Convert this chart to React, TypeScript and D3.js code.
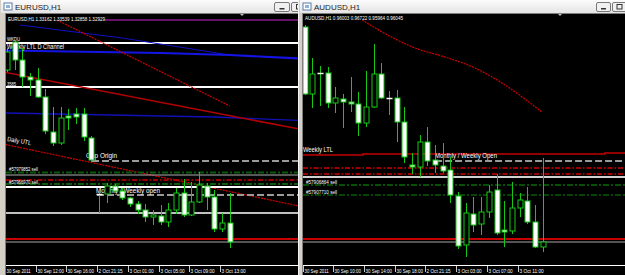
import React from "react";
import * as d3 from "d3";

// ---------- EURUSD H1 (left window) ----------
const eurOpen = [1.3588,1.3644,1.3608,1.3574,1.3568,1.3534,1.3464,1.3442,1.3496,1.3500,1.3500,1.3452,1.3340,1.3340,1.3356,1.3346,1.3332,1.3320,1.3308,1.3294,1.3296,1.3284,1.3308,1.3342,1.3298,1.3324,1.3356,1.3334,1.3270,1.3282];
const eurHigh = [1.3632,1.3648,1.3632,1.3582,1.3592,1.3550,1.3514,1.3514,1.3510,1.3512,1.3512,1.3456,1.3352,1.3362,1.3360,1.3352,1.3334,1.3326,1.3320,1.3308,1.3318,1.3322,1.3352,1.3370,1.3364,1.3384,1.3362,1.3348,1.3302,1.3342];
const eurLow = [1.3584,1.3588,1.3554,1.3536,1.3532,1.3460,1.3436,1.3438,1.3468,1.3480,1.3446,1.3404,1.3302,1.3322,1.3342,1.3328,1.3314,1.3300,1.3284,1.3278,1.3278,1.3274,1.3300,1.3294,1.3296,1.3322,1.3308,1.3264,1.3264,1.3232];
const eurClose = [1.3624,1.3608,1.3574,1.3568,1.3534,1.3466,1.3442,1.3492,1.3492,1.3494,1.3454,1.3408,1.3340,1.3356,1.3346,1.3332,1.3320,1.3308,1.3294,1.3298,1.3284,1.3308,1.3342,1.3298,1.3324,1.3358,1.3334,1.3270,1.3282,1.3244];
const eurTickBars = [0, 4, 8, 12, 16, 20, 24, 28];
const eurTickLabels = ["30 Sep 2011","30 Sep 12:00","30 Sep 16:00","2 Oct 21:15","3 Oct 01:00","3 Oct 05:00","3 Oct 09:00","3 Oct 13:00"];
const eurHeader = "EURUSD,H1  1.33162 1.33539 1.32858 1.32929";
// horizontal levels
const eurPurple = 1.3688;
const eurWeeklyLTL = 1.3642;
const eurLevel3585 = 1.3554;
const eurGapOrigin = 1.3406;
const eurSell1 = 1.3383;
const eurGray1 = 1.3378;
const eurRedDash = 1.3368;
const eurSell2 = 1.3360;
const eurWhite2 = 1.3354;
const eurMonthlyOpen = 1.3338;
const eurGray2 = 1.3302;
const eurRed = 1.3250;
const eurGray3 = 1.3244;
// trend lines [bar, price]
const eurBlueThick: [number, number][] = [[-0.2, 1.3627], [20, 1.3622], [29, 1.3618], [38, 1.3611]];
const eurBlueThin: [number, number][] = [[1.7, 1.3678], [15, 1.3652], [29, 1.3618]];
const eurBlueMid: [number, number][] = [[-0.2, 1.3502], [27, 1.3494], [38, 1.3487]];
const eurRedDotted: [number, number][] = [[6.5, 1.3688], [29, 1.3516]];
const eurRedSolid: [number, number][] = [[-0.2, 1.3583], [38, 1.3470]];
const eurDailyUTL: [number, number][] = [[-0.2, 1.3439], [38, 1.3316]];

// ---------- AUDUSD H1 (right window) ----------
const audOpen = [0.9787,0.9720,0.9741,0.9741,0.9711,0.9715,0.9712,0.9710,0.9691,0.9707,0.9740,0.9716,0.9716,0.9692,0.9649,0.9647,0.9672,0.9654,0.9648,0.9644,0.9618,0.9569,0.9600,0.9590,0.9602,0.9624,0.9584,0.9583,0.9606,0.9613,0.9592,0.9567];
const audHigh = [0.9789,0.9756,0.9748,0.9747,0.9727,0.9720,0.9737,0.9722,0.9743,0.9770,0.9751,0.9723,0.9724,0.9707,0.9661,0.9679,0.9687,0.9669,0.9671,0.9657,0.9622,0.9611,0.9617,0.9617,0.9629,0.9640,0.9613,0.9632,0.9621,0.9627,0.9609,0.9656];
const audLow = [0.9719,0.9706,0.9708,0.9706,0.9701,0.9686,0.9702,0.9678,0.9687,0.9706,0.9715,0.9699,0.9672,0.9651,0.9640,0.9637,0.9648,0.9641,0.9641,0.9611,0.9565,0.9557,0.9582,0.9579,0.9596,0.9579,0.9567,0.9580,0.9597,0.9590,0.9566,0.9562];
const audClose = [0.9720,0.9740,0.9741,0.9711,0.9716,0.9712,0.9710,0.9691,0.9707,0.9740,0.9716,0.9716,0.9692,0.9657,0.9647,0.9672,0.9653,0.9649,0.9643,0.9619,0.9568,0.9601,0.9589,0.9602,0.9622,0.9581,0.9582,0.9606,0.9614,0.9592,0.9567,0.9572];
const audTickBars = [0, 4, 8, 12, 16, 20, 24, 28];
const audTickLabels = ["30 Sep 2011","30 Sep 10:00","30 Sep 14:00","30 Sep 18:00","2 Oct 21:15","3 Oct 03:00","3 Oct 07:00","3 Oct 11:00"];
const audHeader = "AUDUSD,H1  0.96003 0.96722 0.95964 0.96045";
const audWeeklyLTL: [number, number][] = [[-0.2, 0.9659], [7.6, 0.9659], [7.6, 0.9660], [39.1, 0.9660], [39.1, 0.9661], [42, 0.9661]];
const audMonthlyOpen = 0.9653;
const audRedDash1 = 0.9646;
const audRedDash2 = 0.9640;
const audWhite = 0.9637;
const audSell1 = 0.9629;
const audSell2 = 0.9619;
const audRed = 0.9575;
const audGray = 0.9572;
const audRedCurve: [number, number][] = [[7.5, 0.9794], [11.3, 0.9777], [14.4, 0.9766], [18.7, 0.9756], [22.2, 0.9746], [25.7, 0.9731], [30.9, 0.9702]];

const GREEN = "#14c814";
const DOTRED = "#d00000";
const FONT = "'Liberation Sans', Arial, sans-serif";

const L = { x0: 6, x1: 298, y0: 14, y1: 275 };
const R = { x0: 303, x1: 625, y0: 14, y1: 275 };

const exL = d3.scaleLinear().domain([0, 37.76]).range([7, 297]);
const eyL = d3.scaleLinear().domain([1.32, 1.37]).range([264, 14]);
const exR = d3.scaleLinear().domain([0, 41.6]).range([304.5, 624]);
const eyR = d3.scaleLinear().domain([0.955, 0.98]).range([264, 14]);

function Candles({ o, h, l, c, x, y }: any) {
  return (
    <g>
      {o.map((op: number, i: number) => {
        const cx = Math.round(x(i)) + 0.5;
        const yo = y(op), yc = y(c[i]);
        const top = Math.min(yo, yc), bot = Math.max(yo, yc);
        const bull = c[i] > op;
        return (
          <g key={i}>
            <line x1={cx} x2={cx} y1={y(h[i])} y2={y(l[i])} stroke={GREEN} strokeWidth={1} />
            {bot - top < 1 ? (
              <line x1={cx - 3} x2={cx + 3} y1={Math.round(top) + 0.5} y2={Math.round(top) + 0.5} stroke={bull ? GREEN : "#fff"} strokeWidth={1.5} />
            ) : (
              <rect x={cx - 2.5} y={top} width={5} height={bot - top} fill={bull ? "#000" : "#fff"} stroke={GREEN} strokeWidth={1} />
            )}
          </g>
        );
      })}
    </g>
  );
}

function HLine({ y, x0, x1, color, w = 1, dash }: any) {
  return <line x1={x0} x2={x1} y1={y} y2={y} stroke={color} strokeWidth={w} strokeDasharray={dash} />;
}

function Txt({ x, y, t, size = 6, len, fill = "#fff", rot }: any) {
  return (
    <text x={x} y={y} fill={fill} fontSize={size} fontFamily={FONT} textLength={len} lengthAdjust="spacingAndGlyphs"
      transform={rot ? `rotate(${rot} ${x} ${y})` : undefined}>{t}</text>
  );
}

function Axis({ bars, labels, x, b }: any) {
  return (
    <g>
      <line x1={b.x0} x2={b.x1} y1={265.5} y2={265.5} stroke="#fff" strokeWidth={1} />
      {bars.map((bi: number, k: number) => {
        const px = Math.round(x(bi)) - 1.5;
        return (
          <g key={k}>
            <line x1={px} x2={px} y1={265} y2={272} stroke="#fff" strokeWidth={0.8} />
            <Txt x={px + 1} y={272.5} t={labels[k]} size={5} len={labels[k].length * 2.2} />
          </g>
        );
      })}
    </g>
  );
}

function TitleBar({ x, w, title }: any) {
  return (
    <g>
      <defs>
        <linearGradient id={"tb" + x} x1="0" y1="0" x2="0" y2="1">
          <stop offset="0" stopColor="#fbfbfb" />
          <stop offset="1" stopColor="#e4e4e4" />
        </linearGradient>
      </defs>
      <rect x={x} y={0} width={w} height={13} fill={`url(#tb${x})`} />
      <rect x={x + 3} y={3} width={8} height={7} fill="#fff" stroke="#5a7aa8" strokeWidth={1} />
      <rect x={x + 5} y={5} width={4} height={3} fill="#8fb0d8" />
      <text x={x + 14} y={10} fontSize={8} fontFamily={FONT} fill="#222">{title}</text>
    </g>
  );
}

function Btn({ x, w, kind }: any) {
  return (
    <g>
      <rect x={x + 0.5} y={2.5} width={w} height={9} rx={1.5} fill="#f0f0f0" stroke="#7a7a7a" strokeWidth={1} />
      {kind === "min" ? (
        <rect x={x + w / 2 - 2} y={8} width={5} height={1.5} fill="#333" />
      ) : (
        <rect x={x + w / 2 - 2} y={4.5} width={5} height={4.5} fill="none" stroke="#333" strokeWidth={1} />
      )}
    </g>
  );
}

export default function App() {
  const lineL = d3.line<[number, number]>().x((d) => exL(d[0])).y((d) => eyL(d[1]));
  const lineR = d3.line<[number, number]>().x((d) => exR(d[0])).y((d) => eyR(d[1]));
  const curveR = d3.line<[number, number]>().x((d) => exR(d[0])).y((d) => eyR(d[1])).curve(d3.curveMonotoneX);

  return (
    <div>
      <style>{`body{margin:0;background:#d4d0c8}`}</style>
      <svg width={625} height={275} style={{ display: "block" }}>
        <defs>
          <clipPath id="clipL"><rect x={L.x0} y={L.y0} width={L.x1 - L.x0} height={L.y1 - L.y0} /></clipPath>
          <clipPath id="clipR"><rect x={R.x0} y={R.y0} width={R.x1 - R.x0} height={R.y1 - R.y0} /></clipPath>
        </defs>
        <rect x={0} y={0} width={625} height={275} fill="#d4d0c8" />

        {/* ---------- Left window ---------- */}
        <TitleBar x={1} w={297} title="EURUSD,H1" />
        <Btn x={274} w={15} kind="min" />
        <Btn x={291} w={15} kind="max" />
        <rect x={0} y={13} width={298} height={262} fill="#d4d0c8" />
        <line x1={5.5} x2={5.5} y1={13} y2={275} stroke="#808080" />
        <line x1={5} x2={298} y1={13.5} y2={13.5} stroke="#808080" />
        <rect x={L.x0} y={L.y0} width={L.x1 - L.x0} height={L.y1 - L.y0} fill="#000" />
        <g clipPath="url(#clipL)">
          <HLine y={eyL(eurPurple)} x0={105} x1={298} color="#8a1a8a" w={1.5} />
          <HLine y={eyL(eurWeeklyLTL)} x0={6} x1={298} color="#fff" w={2} />
          <HLine y={eyL(eurLevel3585)} x0={6} x1={298} color="#fff" w={2} />
          <path d={lineL(eurBlueThin)!} fill="none" stroke="#1010c8" strokeWidth={1} />
          <path d={lineL(eurBlueThick)!} fill="none" stroke="#1414e6" strokeWidth={2.2} />
          <path d={lineL(eurBlueMid)!} fill="none" stroke="#1010b4" strokeWidth={1.3} />
          <path d={lineL(eurRedDotted)!} fill="none" stroke={DOTRED} strokeWidth={1.2} strokeDasharray="2,1" />
          <path d={lineL(eurRedSolid)!} fill="none" stroke="#b40000" strokeWidth={1.5} />
          <path d={lineL(eurDailyUTL)!} fill="none" stroke={DOTRED} strokeWidth={1.2} strokeDasharray="2,1" />
          <HLine y={eyL(eurGapOrigin)} x0={92} x1={298} color="#9a9a9a" w={2} dash="7,3" />
          <HLine y={eyL(eurSell1)} x0={6} x1={298} color="#0a5a0a" w={2} dash="6,2,2,2" />
          <HLine y={eyL(eurGray1)} x0={6} x1={298} color="#b0b0b0" w={1} />
          <HLine y={eyL(eurRedDash)} x0={6} x1={298} color="#c80000" w={1.5} dash="5,2,1.5,2" />
          <HLine y={eyL(eurSell2)} x0={6} x1={298} color="#0a5a0a" w={2} dash="6,2,2,2" />
          <HLine y={eyL(eurWhite2)} x0={6} x1={298} color="#fff" w={2} />
          <HLine y={eyL(eurMonthlyOpen)} x0={97} x1={298} color="#9a9a9a" w={2} dash="7,3" />
          <HLine y={eyL(eurGray2)} x0={6} x1={298} color="#c0c0c0" w={2} />
          <HLine y={eyL(eurRed)} x0={6} x1={298} color="#c80000" w={2} />
          <HLine y={eyL(eurGray3)} x0={6} x1={298} color="#707070" w={1.5} />

          <Txt x={8} y={21} t={eurHeader} size={5} len={97} />
          <Txt x={7} y={41} t="WKDU" size={5} len={13} />
          <Txt x={7} y={49} t="Weekly LTL D Channel" size={6.5} len={57} />
          <Txt x={7} y={86} t="3585" size={5} len={9} />
          <Txt x={7} y={141} t="Daily UTL" size={6.5} len={24} rot={10} />
          <Txt x={86} y={158} t="Gap Origin" size={6.5} len={31} />
          <Txt x={9} y={171} t="#57979852 sell" size={4.8} len={29} />
          <Txt x={9} y={183.5} t="#57966970 sell" size={4.8} len={29} />
          <Txt x={96} y={193} t="Monthly / Weekly open" size={6.5} len={64} />
          <path d="M240,14 L244,14 L242,16 Z" fill="#c0c0c0" />

          <Candles o={eurOpen} h={eurHigh} l={eurLow} c={eurClose} x={exL} y={eyL} />
          <Axis bars={eurTickBars} labels={eurTickLabels} x={exL} b={L} />
        </g>

        {/* ---------- Right window ---------- */}
        <rect x={298} y={0} width={327} height={275} fill="#d4d0c8" />
        <line x1={298.5} x2={298.5} y1={0} y2={275} stroke="#f4f4f4" />
        <TitleBar x={300} w={325} title="AUDUSD,H1" />
        <Btn x={596} w={14} kind="min" />
        <Btn x={612} w={14} kind="max" />
        <line x1={302.5} x2={302.5} y1={13} y2={275} stroke="#808080" />
        <line x1={302} x2={625} y1={13.5} y2={13.5} stroke="#808080" />
        <rect x={R.x0} y={R.y0} width={R.x1 - R.x0} height={R.y1 - R.y0} fill="#000" />
        <g clipPath="url(#clipR)">
          <path d={curveR(audRedCurve)!} fill="none" stroke={DOTRED} strokeWidth={1.2} strokeDasharray="2,1" />
          <path d={lineR(audWeeklyLTL)!} fill="none" stroke="#c00000" strokeWidth={1.6} />
          <HLine y={eyR(audMonthlyOpen)} x0={exR(17)} x1={625} color="#9a9a9a" w={2} dash="7,3" />
          <HLine y={eyR(audRedDash1)} x0={303} x1={625} color="#d00000" w={1.5} dash="5,2,1.5,2" />
          <HLine y={eyR(audRedDash2)} x0={303} x1={625} color="#d00000" w={1.5} dash="5,2,1.5,2" />
          <HLine y={eyR(audWhite)} x0={303} x1={625} color="#d0d0d0" w={2} />
          <HLine y={eyR(audSell1)} x0={303} x1={625} color="#0a6a0a" w={1.5} dash="6,2,2,2" />
          <HLine y={eyR(audSell2)} x0={303} x1={625} color="#0a8a0a" w={1} dash="6,2,2,2" />
          <HLine y={eyR(audRed)} x0={303} x1={625} color="#c80000" w={2} />
          <HLine y={eyR(audGray)} x0={303} x1={625} color="#707070" w={1.5} />

          <Txt x={305} y={20} t={audHeader} size={5} len={98} />
          <Txt x={303} y={152} t="Weekly LTL" size={6.5} len={30} />
          <Txt x={435} y={158} t="Monthly / Weekly Open" size={6.5} len={62} />
          <Txt x={306} y={183.5} t="#57906864 sell" size={4.8} len={31} />
          <Txt x={306} y={193.5} t="#57907710 sell" size={4.8} len={31} />
          <path d="M558,14 L562,14 L560,16 Z" fill="#c0c0c0" />

          <Candles o={audOpen} h={audHigh} l={audLow} c={audClose} x={exR} y={eyR} />
          <Axis bars={audTickBars} labels={audTickLabels} x={exR} b={R} />
        </g>
      </svg>
    </div>
  );
}
